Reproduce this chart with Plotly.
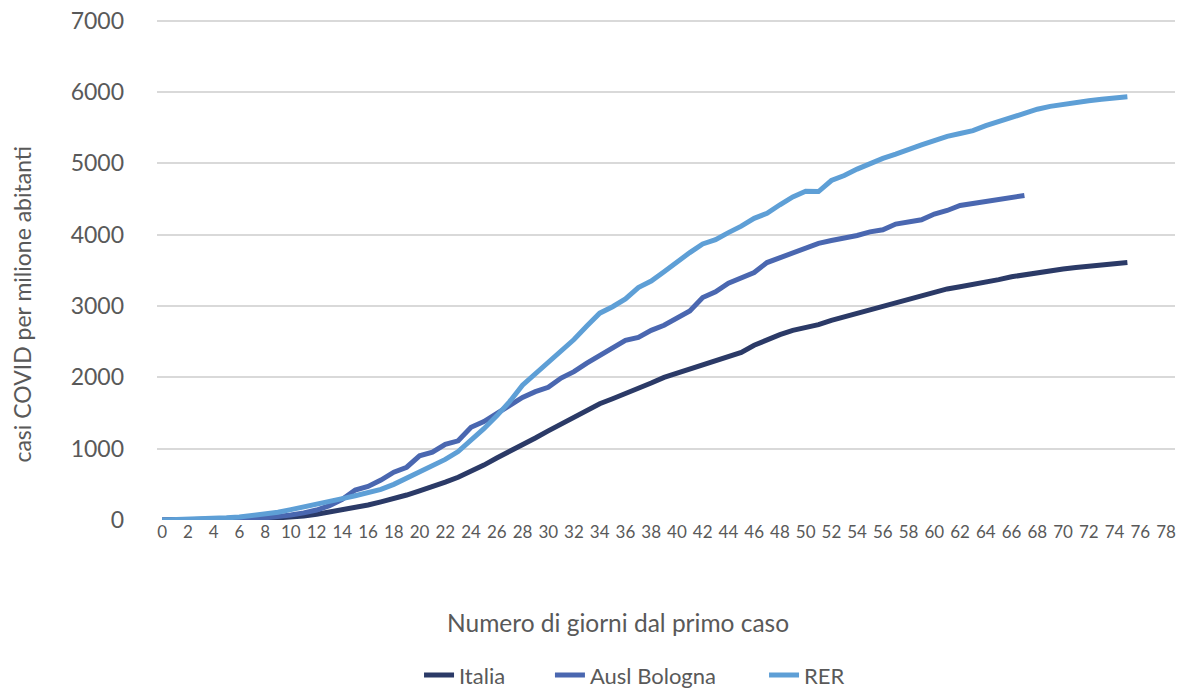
import plotly.graph_objects as go

# Days since first case
giorni = list(range(0, 76))
giorni_bologna = list(range(0, 68))

italia = [0, 1, 2, 3, 5, 8, 12, 17, 23, 30,
          40, 55, 80, 110, 140, 165, 210, 255, 300, 350,
          410, 465, 530, 600, 680, 770, 870, 960, 1050, 1150,
          1250, 1350, 1450, 1550, 1630, 1700, 1770, 1840, 1920, 2000,
          2060, 2120, 2180, 2230, 2290, 2350, 2450, 2530, 2600, 2660,
          2700, 2740, 2800, 2850, 2900, 2950, 2990, 3040, 3100, 3150,
          3200, 3240, 3270, 3300, 3325, 3370, 3410, 3440, 3470, 3500,
          3520, 3540, 3555, 3575, 3595, 3610]

ausl_bologna = [0, 1, 2, 3, 5, 8, 12, 18, 30, 45,
                70, 100, 140, 200, 290, 420, 470, 560, 670, 740,
                900, 950, 1060, 1110, 1300, 1380, 1500, 1620, 1720, 1800,
                1860, 1990, 2080, 2200, 2310, 2400, 2520, 2560, 2660, 2730,
                2840, 2930, 3120, 3200, 3320, 3400, 3470, 3610, 3680, 3740,
                3810, 3880, 3920, 3950, 3990, 4040, 4070, 4150, 4180, 4210,
                4290, 4340, 4410, 4440, 4460, 4490, 4520, 4550]

rer = [0, 3, 8, 15, 22, 30, 42, 60, 80, 110,
       145, 180, 215, 255, 300, 340, 380, 430, 500, 590,
       680, 770, 850, 960, 1110, 1280, 1460, 1660, 1890, 2050,
       2220, 2380, 2530, 2720, 2900, 2990, 3100, 3260, 3350, 3480,
       3620, 3750, 3870, 3930, 4030, 4120, 4230, 4300, 4420, 4530,
       4610, 4605, 4760, 4830, 4920, 5000, 5070, 5130, 5200, 5260,
       5320, 5380, 5420, 5460, 5530, 5590, 5650, 5710, 5760, 5800,
       5830, 5855, 5880, 5900, 5920, 5935]

x_ticks = list(range(0, 79, 2))
y_ticks = [0, 1000, 2000, 3000, 4000, 5000, 6000, 7000]

FONT = "Lato"
GREY = "#595959"

fig = go.Figure()
fig.add_trace(go.Scatter(x=giorni, y=italia, mode="lines", name="Italia", legend="legend",
                         line=dict(color="#2B3A67", width=5)))
fig.add_trace(go.Scatter(x=giorni_bologna, y=ausl_bologna, mode="lines", name="Ausl Bologna",
                         legend="legend2", line=dict(color="#4A67B0", width=5)))
fig.add_trace(go.Scatter(x=giorni, y=rer, mode="lines", name="RER", legend="legend3",
                         line=dict(color="#5E9FD6", width=5)))

leg_common = dict(orientation="h", xanchor="left", y=-0.31, yanchor="middle",
                  font=dict(size=22, color=GREY, family=FONT), bgcolor="rgba(0,0,0,0)")

fig.update_layout(
    width=1187, height=689,
    margin=dict(l=157, r=12, t=19, b=169, autoexpand=False),
    paper_bgcolor="white", plot_bgcolor="white",
    font=dict(family=FONT, color=GREY),
    showlegend=True,
    legend=dict(x=0.2574, **leg_common),
    legend2=dict(x=0.3860, **leg_common),
    legend3=dict(x=0.5963, **leg_common),
    xaxis=dict(range=[-0.4, 78.7], tickvals=x_ticks, ticktext=[str(v) for v in x_ticks],
               showgrid=False, zeroline=False, showline=False, ticks="", automargin=False,
               tickfont=dict(size=17, color=GREY, family=FONT)),
    yaxis=dict(range=[0, 7025], tickvals=y_ticks, showgrid=True, gridcolor="#D9D9D9",
               gridwidth=1.5, zeroline=False, showline=False, ticks="", automargin=False,
               ticklabelstandoff=32,
               tickfont=dict(size=23, color=GREY, family=FONT)),
    annotations=[
        dict(text="Numero di giorni dal primo caso", xref="paper", yref="paper",
             x=0.453, y=-0.204, xanchor="center", yanchor="middle", showarrow=False,
             font=dict(size=24.5, color=GREY, family=FONT)),
        dict(text="casi COVID per milione abitanti", xref="paper", yref="paper",
             x=-0.1326, y=0.43, xanchor="center", yanchor="middle", showarrow=False,
             textangle=-90, font=dict(size=23, color=GREY, family=FONT)),
    ],
)

# remove the default page margin so the figure fills the window exactly
fig.write_html("out.html", config={"displayModeBar": False},
               post_script="document.body.style.margin='0px';")
